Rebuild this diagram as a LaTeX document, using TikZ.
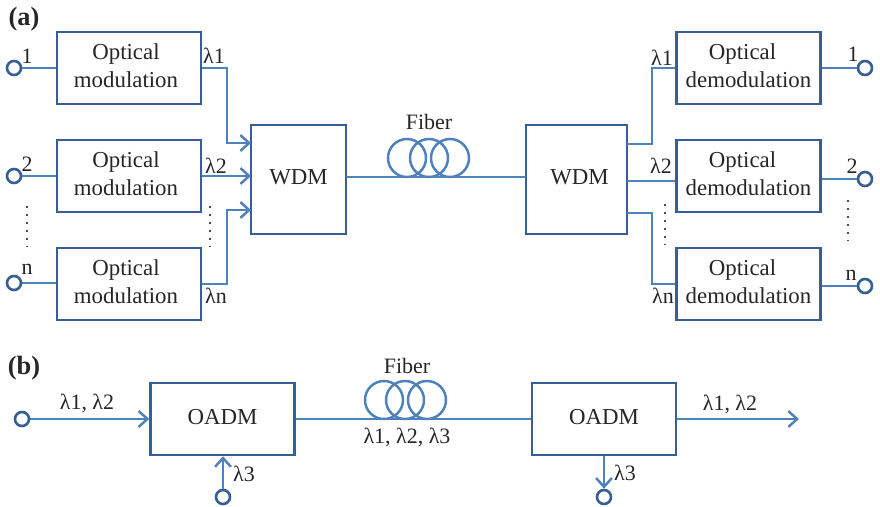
\documentclass[tikz,border=0pt]{standalone}
\usepackage{fontspec}
\setmainfont{Liberation Serif}
\usetikzlibrary{arrows.meta}
\newcommand{\nudge}{\hspace*{0.12cm}}
\tikzset{
  sysbox/.style={draw=boxblue,line width=1.4pt,fill=white,align=center,inner sep=0pt,text=black!85,text depth=0.08cm,font=\fontsize{13}{16}\selectfont},
  modbox/.style={sysbox,minimum width=2.88cm,minimum height=1.44cm},
  wdmbox/.style={sysbox,minimum height=2.18cm},
  port/.style={draw=boxblue,line width=1.5pt,fill=white,circle,inner sep=0pt,minimum size=0.28cm},
  coil/.style={draw=lineblue,line width=1.4pt,circle,inner sep=0pt,minimum size=0.76cm},
  link/.style={draw=lineblue,line width=1.7pt},
  arrowlink/.style={link,-{Straight Barb[length=5pt,width=9pt,line width=1.4pt]}},
  lab/.style={inner sep=0pt,text=black!85,font=\fontsize{12.5}{15}\selectfont},
  dotcol/.style={draw=black!70,line width=1.1pt,dash pattern=on 1.1pt off 3.4pt}
}
\begin{document}
\begin{tikzpicture}[x=0.02cm,y=-0.02cm]
\definecolor{boxblue}{RGB}{54,95,150}
\definecolor{lineblue}{RGB}{79,129,189}
\useasboundingbox (0,0) rectangle (880,507);

% Panel labels
\node[lab,font=\fontsize{15}{18}\selectfont\bfseries] (panelA) at (24,19) {(a)};
\node[lab,font=\fontsize{15}{18}\selectfont\bfseries] (panelB) at (24,368) {(b)};

% Modulators and multiplexers
\node[modbox] (mod1) at (129,68) {Optical\nudge\\modulation\nudge};
\node[modbox] (mod2) at (129,176) {Optical\nudge\\modulation\nudge};
\node[modbox] (mod3) at (129,284) {Optical\nudge\\modulation\nudge};
\node[wdmbox,minimum width=1.9cm] (wdmL) at (298.5,179.5) {WDM};
\node[wdmbox,minimum width=2.02cm] (wdmR) at (576.5,179.5) {\nudge WDM};
\node[modbox] (dem1) at (748.5,68) {Optical\nudge\nudge\\demodulation};
\node[modbox] (dem2) at (748.5,176) {Optical\nudge\nudge\\demodulation};
\node[modbox] (dem3) at (748.5,284) {Optical\nudge\nudge\\demodulation};

% Ports
\node[port] (inA) at (14,68) {};
\node[port] (inB) at (14,176) {};
\node[port] (inC) at (14,283) {};
\node[port] (outA) at (865,68) {};
\node[port] (outB) at (865,179) {};
\node[port] (outC) at (865,286) {};

% Coordinates for the side entries of the WDM boxes
\coordinate (wdmLa) at (251,143);
\coordinate (wdmLb) at (251,176);
\coordinate (wdmLc) at (251,210);
\coordinate (wdmRa) at (627,144);
\coordinate (wdmRb) at (627,181);
\coordinate (wdmRc) at (627,213);
\coordinate (jointL) at (227,0);
\coordinate (jointR) at (652,0);

% Draw connectors
\draw[link] (inA) -- (mod1);
\draw[link] (inB) -- (mod2);
\draw[link] (inC) -- (inC -| mod3.west);
\draw[link] (outA) -- (dem1);
\draw[link] (outB) -- (outB -| dem2.east);
\draw[link] (outC) -- (outC -| dem3.east);
\draw[arrowlink] (mod1.east) -| (jointL |- wdmLa) -- (wdmLa);
\draw[arrowlink] (mod2.east) -- (wdmLb);
\draw[arrowlink] (mod3.east) -| (jointL |- wdmLc) -- (wdmLc);
\draw[link] (wdmRa) -| (jointR |- dem1.west) -- (dem1.west);
\draw[link] (wdmRb) -- (wdmRb -| dem2.west);
\draw[link] (wdmRc) -| (jointR |- dem3.west) -- (dem3.west);

% Fiber
\coordinate (fiberA) at (346,177);
\coordinate (fiberB) at (526,177);
\draw[link] (fiberA) -- (fiberB);
\foreach \x [count=\i] in {407,429,450} {
  \node[coil] (coilA\i) at (\x,158) {};
}
\node[lab] (fiberlabA) at (429,122) {Fiber};

% Add labels
\node[lab] (la1) at (214,56) {λ1};
\node[lab] (la2) at (216,166) {λ2};
\node[lab] (lan) at (216,296) {λn};
\node[lab] (ra1) at (662,58) {λ1};
\node[lab] (ra2) at (661,166) {λ2};
\node[lab] (ran) at (663,296) {λn};
\node[lab] (nl1) at (27,56) {1};
\node[lab] (nl2) at (27,164) {2};
\node[lab] (nln) at (27,269) {n};
\node[lab] (nr1) at (853,54) {1};
\node[lab] (nr2) at (852,166) {2};
\node[lab] (nrn) at (851,275) {n};

% Draw dots
\foreach \x/\y in {27/206,210/206,665/204,848/200} {
  \draw[dotcol] (\x,\y) -- ++(0,42);
}

% OADM line
\node[modbox] (oadmL) at (222.5,419) {OADM};
\node[modbox] (oadmR) at (604,419) {OADM};
\node[port] (addIn) at (22,419) {};
\node[port] (addPort) at (223,497) {};
\node[port] (dropPort) at (604,497) {};
\coordinate (outEnd) at (799,419);
\draw[arrowlink] (addIn) -- (oadmL);
\draw[link] (oadmL) -- (oadmR);
\draw[arrowlink] (oadmR) -- (outEnd);
\draw[arrowlink] (addPort) -- (oadmL.south -| addPort);
\draw[arrowlink] (oadmR.south -| dropPort) -- (dropPort);
\foreach \x [count=\i] in {384,405,427} {
  \node[coil] (coilB\i) at (\x,400) {};
}

% Add OADM labels
\node[lab] (fiberlabB) at (407,366) {Fiber};
\node[lab] (lamAll) at (407,437) {λ1, λ2, λ3};
\node[lab] (lamIn) at (87,403) {λ1, λ2};
\node[lab] (lamOut) at (730,404) {λ1, λ2};
\node[lab] (lamAdd) at (244,474) {λ3};
\node[lab] (lamDrop) at (625,473) {λ3};
\end{tikzpicture}
\end{document}
